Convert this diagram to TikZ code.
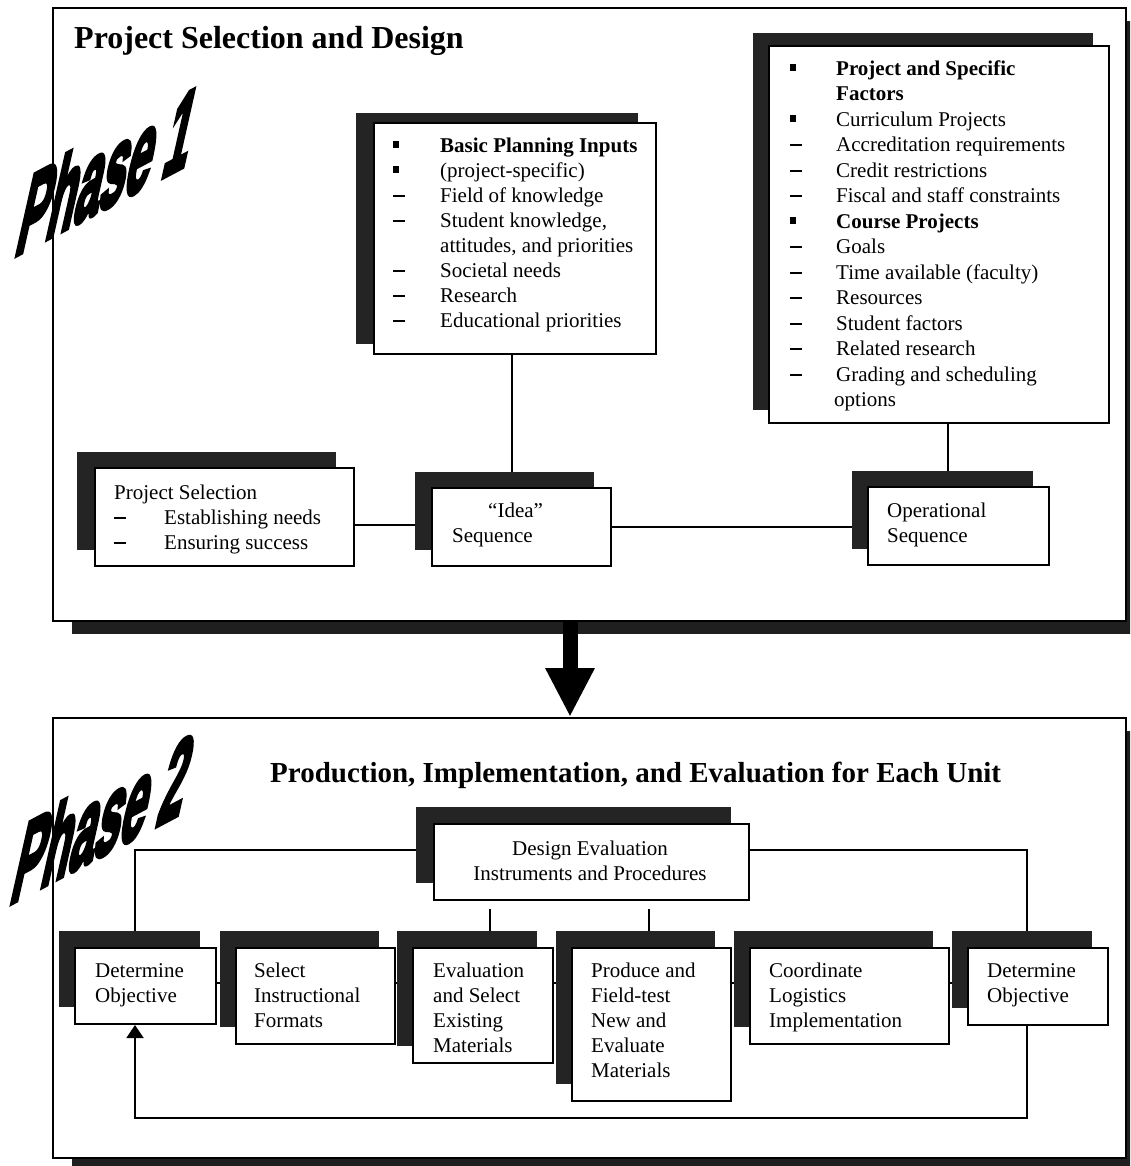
\documentclass[tikz,border=0pt]{standalone}
\usepackage{fontspec}
\setmainfont{Liberation Serif}
\newfontfamily\phasefont[FakeBold=5]{Liberation Sans}
\usetikzlibrary{arrows.meta,calc}

% square list bullet, a heavy list dash and a fixed-width marker column
\newcommand\sqb{\raisebox{4.5pt}{\rule{5.5pt}{6.5pt}}}
\newcommand\dsh{\rule[5.5pt]{12pt}{1.8pt}}
\newcommand\mkl[3][47pt]{\makebox[#1][l]{#2}#3}

% a white card with its dark offset shadow: name, left, top, width, height, dx, dy
\newcommand\card[7]{%
  \node[cardshade, minimum width=#4pt, minimum height=#5pt] (#1-sh) at ({#2-#6},{-#3+#7}) {};
  \node[card, minimum width=#4pt, minimum height=#5pt] (#1) at (#2,-#3) {};
}

\begin{document}
\begin{tikzpicture}[x=1pt,y=1pt,
  panel/.style={draw=black, line width=2pt, fill=white, inner sep=0pt, anchor=north west},
  panelshade/.style={fill=black!88},
  card/.style={draw=black, line width=2pt, fill=white, inner sep=0pt, anchor=north west},
  cardshade/.style={fill=black!86, draw=none, inner sep=0pt, anchor=north west},
  body/.style={inner sep=0pt, anchor=north west, align=left, font=\fontsize{21}{25}\selectfont},
  link/.style={draw=black, line width=2pt},
  heading/.style={inner sep=0pt, anchor=base west, font=\bfseries},
  phase/.style={inner sep=0pt, anchor=base west, font=\fontsize{100}{110}\selectfont\phasefont\bfseries,
                cm={0.455,0.242,0.262,1.168,(0,0)}},
]
\useasboundingbox (0,0) rectangle (1130,-1166);
\clip (0,0) rectangle (1130,-1166);

% ---------- the two phase panels ----------
\fill[panelshade] (72,-21) rectangle (1150,-634);
\node[panel, minimum width=1073pt, minimum height=613pt] (ph1) at (52,-7) {};
\fill[panelshade] (72,-731) rectangle (1150,-1180);
\node[panel, minimum width=1073pt, minimum height=440pt] (ph2) at (52,-717) {};

% big arrow from phase 1 to phase 2
\coordinate (ax) at (570,0);
\draw[line width=15pt, -{Triangle[width=46pt,length=49pt]}] (ph1.south -| ax) -- (ph2.north -| ax);

% ---------- headings ----------
\node[heading, font=\fontsize{32}{38}\selectfont\bfseries] (title1) at (74,-49) {Project Selection and Design};
\node[heading, font=\fontsize{29}{35}\selectfont\bfseries] (title2) at (270,-782) {Production, Implementation, and Evaluation for Each Unit};
\node[phase] (phase1) at (13,-257) {Phase 1};
\node[phase] (phase2) at (8,-905) {Phase 2};

% ---------- phase 1 cards ----------
\card{inputs}{373}{122}{282}{231}{17}{9}
\card{factors}{768}{45}{340}{377}{15}{12}
\card{psel}{94}{467}{259}{98}{17}{15}
\card{idea}{431}{487}{179}{78}{16}{15}
\card{oper}{867}{486}{181}{78}{15}{15}

\node[body] (inputs-t) at (393,-134.5) {\strut\mkl{\sqb}{\textbf{Basic Planning Inputs}}\\
  \mkl{\sqb}{(project-specific)}\\
  \mkl{\dsh}{Field of knowledge}\\
  \mkl{\dsh}{Student knowledge,}\\
  \mkl{}{attitudes, and priorities}\\
  \mkl{\dsh}{Societal needs}\\
  \mkl{\dsh}{Research}\\
  \mkl{\dsh}{Educational priorities}};

\node[body, font=\fontsize{21}{25.5}\selectfont] (factors-t) at (790,-57.2) {\strut\mkl[46pt]{\sqb}{\textbf{Project and Specific}}\\
  \mkl[46pt]{}{\textbf{Factors}}\\
  \mkl[46pt]{\sqb}{Curriculum Projects}\\
  \mkl[46pt]{\dsh}{Accreditation requirements}\\
  \mkl[46pt]{\dsh}{Credit restrictions}\\
  \mkl[46pt]{\dsh}{Fiscal and staff constraints}\\
  \mkl[46pt]{\sqb}{\textbf{Course Projects}}\\
  \mkl[46pt]{\dsh}{Goals}\\
  \mkl[46pt]{\dsh}{Time available (faculty)}\\
  \mkl[46pt]{\dsh}{Resources}\\
  \mkl[46pt]{\dsh}{Student factors}\\
  \mkl[46pt]{\dsh}{Related research}\\
  \mkl[46pt]{\dsh}{Grading and scheduling}\\
  \mkl[44pt]{}{options}};

\node[body] (psel-t) at (114,-481.5) {\strut Project Selection\\
  \mkl[50pt]{\dsh}{Establishing needs}\\
  \mkl[50pt]{\dsh}{Ensuring success}};
\node[body] (idea-t) at (452,-499.5) {\strut\hspace*{36pt}“Idea”\\Sequence};
\node[body] (oper-t) at (887,-499.5) {\strut Operational\\Sequence};

% phase 1 connectors
\draw[link] ([xshift=-3pt]inputs.south) -- ([xshift=-3pt]inputs.south |- idea-sh.north);
\draw[link] ([xshift=9pt]factors.south) -- ([xshift=9pt]factors.south |- oper-sh.north);
\draw[link] ([yshift=-8pt]psel.east) -- ([yshift=-8pt]psel.east -| idea-sh.west);
\draw[link] (idea.east) -- (idea.east -| oper-sh.west);

% ---------- phase 2 cards ----------
\card{deval}{433}{823}{315}{76}{17}{16}
\card{det1}{74}{947}{141}{76}{15}{16}
\card{sel}{235}{947}{159}{96}{15}{16}
\card{evs}{412}{947}{140}{115}{15}{16}
\card{prod}{571}{947}{159}{153}{15}{16}
\card{coord}{749}{947}{199}{96}{15}{16}
\card{det2}{967}{947}{140}{77}{15}{16}

\node[body, anchor=north, align=center] (deval-t) at (590,-837.5) {\strut Design Evaluation\\Instruments and Procedures};
\node[body] (det1-t) at (95,-959.5) {\strut Determine\\Objective};
\node[body] (sel-t) at (254,-959.5) {\strut Select\\Instructional\\Formats};
\node[body] (evs-t) at (433,-959.5) {\strut Evaluation\\and Select\\Existing\\Materials};
\node[body] (prod-t) at (591,-959.5) {\strut Produce and\\Field-test\\New and\\Evaluate\\Materials};
\node[body] (coord-t) at (769,-959.5) {\strut Coordinate\\Logistics\\Implementation};
\node[body] (det2-t) at (987,-959.5) {\strut Determine\\Objective};

% phase 2 connectors
\coordinate (dy) at (0,-850);
\coordinate (lx) at (135,0);
\coordinate (rx) at (1027,0);
\coordinate (d1x) at (490,0);
\coordinate (d2x) at (649,0);
\coordinate (ry) at (0,-983);
\coordinate (ly) at (0,-1118);

\draw[link] (deval-sh.west |- dy) -- (lx |- dy) -- (lx |- det1-sh.north);
\draw[link] (deval.east |- dy) -- (rx |- dy) -- (rx |- det2-sh.north);
\draw[link, shorten <=8pt] (deval.south -| d1x) -- (d1x |- evs-sh.north);
\draw[link, shorten <=8pt] (deval.south -| d2x) -- (d2x |- prod-sh.north);

\draw[link] (det1.east |- ry) -- (sel-sh.west |- ry);
\draw[link] (sel.east |- ry) -- (evs-sh.west |- ry);
\draw[link] (evs.east |- ry) -- (prod-sh.west |- ry);
\draw[link] (prod.east |- ry) -- (coord-sh.west |- ry);
\draw[link] (coord.east |- ry) -- (det2-sh.west |- ry);

\draw[link, -{Triangle[width=17pt,length=13pt]}] (rx |- det2.south) -- (rx |- ly) -- (lx |- ly) -- (lx |- det1.south);
\end{tikzpicture}
\end{document}
